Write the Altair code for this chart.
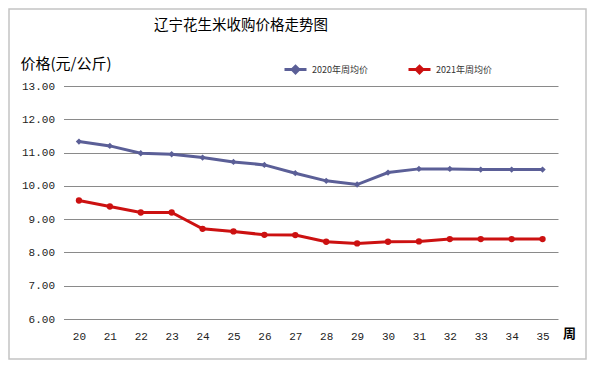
import altair as alt
import pandas as pd

weeks = [str(w) for w in range(20, 36)]
price_2020 = [11.33, 11.20, 10.98, 10.95, 10.85, 10.72, 10.63, 10.38, 10.15, 10.04, 10.40, 10.51, 10.51, 10.49, 10.49, 10.49]
price_2021 = [9.56, 9.38, 9.20, 9.20, 8.71, 8.63, 8.53, 8.52, 8.32, 8.27, 8.32, 8.33, 8.40, 8.40, 8.40, 8.40]
y_ticks = [6, 7, 8, 9, 10, 11, 12, 13]
series_names = ["2020年周均价", "2021年周均价"]
series_colors = ["#5b5f97", "#cc1111"]
series_shapes = ["diamond", "circle"]
chart_title = ["辽宁花生米收购价格走势图"]

rows = []
for w, v in zip(weeks, price_2020):
    rows.append({"week": w, "price": v, "series": series_names[0], "pseries": series_names[0]})
for w, v in zip(weeks, price_2021):
    rows.append({"week": w, "price": v, "series": series_names[1], "pseries": series_names[1]})
df = pd.DataFrame(rows)

CJK = "Noto Sans CJK SC"
NUM = "Liberation Mono"

x_enc = alt.X(
    "week:N",
    sort=weeks,
    scale=alt.Scale(paddingInner=0, paddingOuter=0),
    axis=alt.Axis(
        title="周",
        titleFont=CJK,
        titleFontSize=13,
        titleFontWeight="bold",
        titleColor="#000000",
        titleX=505.5,
        titleY=14,
        titleAlign="center",
        titleBaseline="middle",
        labelAngle=0,
        labelFont=NUM,
        labelFontSize=11,
        labelColor="#222222",
        labelPadding=11,
        ticks=False,
        domain=False,
        grid=False,
    ),
)
y_enc = alt.Y(
    "price:Q",
    scale=alt.Scale(domain=[6, 13], nice=False, zero=False),
    axis=alt.Axis(
        title="价格(元/公斤)",
        titleFont=CJK,
        titleFontSize=15,
        titleFontWeight="normal",
        titleColor="#000000",
        titleAngle=0,
        titleAlign="left",
        titleBaseline="alphabetic",
        titleX=-43.5,
        titleY=-18,
        values=y_ticks,
        tickCount=8,
        format=".2f",
        labelOverlap=False,
        labelFont=NUM,
        labelFontSize=11,
        labelColor="#222222",
        labelPadding=9,
        ticks=False,
        domain=False,
        grid=True,
        gridColor="#8a8a8a",
        gridWidth=1,
    ),
)

color_scale = alt.Scale(domain=series_names, range=series_colors)

border = alt.Chart(pd.DataFrame({"k": [0]})).mark_rect(
    fill=None, stroke="#c4c4c4", strokeWidth=1.5
).encode(
    x=alt.value(-54.5), x2=alt.value(522.5), y=alt.value(-77), y2=alt.value(273)
)

title_text = alt.Chart(pd.DataFrame({"t": chart_title})).mark_text(
    font=CJK, fontSize=14.5, color="#000000", align="center", baseline="middle"
).encode(
    text="t:N", x=alt.value(177.5), y=alt.value(-60)
)

lines = alt.Chart(df).mark_line(strokeWidth=3).encode(
    x=x_enc,
    y=y_enc,
    color=alt.Color(
        "series:N",
        scale=color_scale,
        legend=alt.Legend(
            title=None,
            orient="none",
            legendX=219.5,
            legendY=-29,
            direction="horizontal",
            columns=2,
            columnPadding=34,
            symbolType="M-1,0H1M0,-0.3L0.3,0L0,0.3L-0.3,0Z",
            symbolSize=484,
            symbolStrokeWidth=3,
            labelFont=CJK,
            labelFontSize=9,
            labelColor="#333333",
            labelOffset=4,
        ),
    ),
)

points = alt.Chart(df).mark_point(filled=True, opacity=1, size=40).encode(
    x=x_enc,
    y=y_enc,
    color=alt.Color("pseries:N", scale=alt.Scale(domain=series_names, range=series_colors), legend=None),
    shape=alt.Shape("pseries:N", scale=alt.Scale(domain=series_names, range=series_shapes), legend=None),
)

chart = (
    alt.layer(lines, points, border, title_text)
    .resolve_legend(color="independent", shape="independent")
    .properties(
        width=494.5,
        height=233,
        autosize=alt.AutoSizeParams(type="none"),
        padding={"left": 55.5, "top": 78, "right": 29, "bottom": 41},
        background="#ffffff",
    )
    .configure_view(stroke=None)
)

chart.save("out.html", embed_options={"renderer": "svg", "actions": False})
